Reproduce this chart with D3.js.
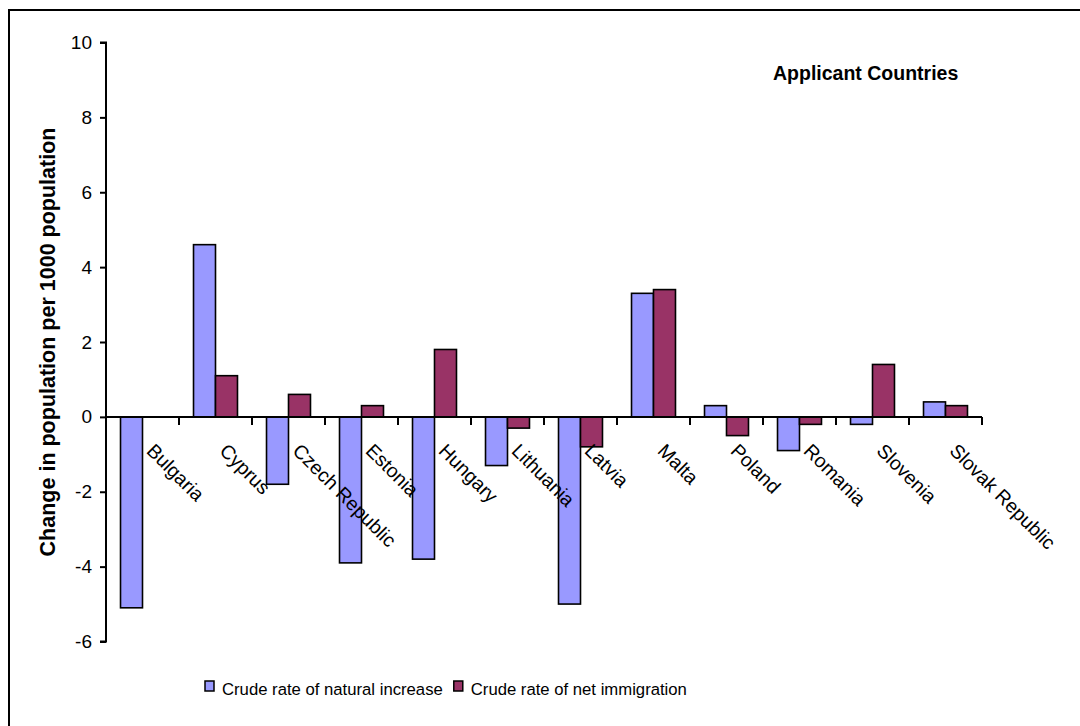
<!DOCTYPE html>
<html><head><meta charset="utf-8">
<script src="https://cdn.jsdelivr.net/npm/d3@7"></script>
<style>body{margin:0;background:#fff}svg{display:block;font-family:"Liberation Sans",Arial,sans-serif}</style>
</head><body><svg id="c" width="1080" height="726"></svg>
<script>
const categories = ["Bulgaria","Cyprus","Czech Republic","Estonia","Hungary","Lithuania","Latvia","Malta","Poland","Romania","Slovenia","Slovak Republic"];
const naturalIncrease = [-5.1, 4.6, -1.8, -3.9, -3.8, -1.3, -5.0, 3.3, 0.3, -0.9, -0.2, 0.4];
const netImmigration = [0, 1.1, 0.6, 0.3, 1.8, -0.3, -0.8, 3.4, -0.5, -0.2, 1.4, 0.3];
const seriesNames = ["Crude rate of natural increase","Crude rate of net immigration"];
const yTicks = [10, 8, 6, 4, 2, 0, -2, -4, -6];
const colors = ["#9999FF", "#993366"];

const svg = d3.select("#c");
svg.append("rect").attr("x", 9).attr("y", 10).attr("width", 1100).attr("height", 800)
  .attr("fill", "none").attr("stroke", "#000").attr("stroke-width", 2);

const L = 106, R = 982, T = 42.5, B = 641.5;
const y = d3.scaleLinear().domain([-6, 10]).range([B, T]);
const x = d3.scaleBand().domain(categories).range([L, R]);
const inner = d3.scaleBand().domain([0, 1]).range([0, x.bandwidth()]).paddingOuter(0.66).paddingInner(0);

const series = [naturalIncrease, netImmigration];
series.forEach((vals, si) => {
  svg.append("g").selectAll("rect").data(vals.map((v, i) => ({v, c: categories[i]})).filter(d => d.v !== 0))
    .join("rect")
    .attr("x", d => x(d.c) + inner(si))
    .attr("width", inner.bandwidth())
    .attr("y", d => y(Math.max(0, d.v)))
    .attr("height", d => Math.abs(y(d.v) - y(0)))
    .attr("fill", colors[si]).attr("stroke", "#000").attr("stroke-width", 1.6);
});

// y axis
const ya = svg.append("g").attr("transform", `translate(${L},0)`)
  .call(d3.axisLeft(y).tickValues(yTicks).tickSize(6).tickPadding(8).tickFormat(d => String(d)));
ya.select(".domain").attr("stroke-width", 2).attr("d", `M-6,${y(10)}H0V${y(-6)}H-6`);
ya.selectAll(".tick line").attr("stroke-width", 2);
ya.selectAll("text").attr("font-size", 19).attr("font-family", "Liberation Sans, Arial, sans-serif").attr("fill", "#000");

// x axis at zero
const xa = svg.append("g").attr("transform", `translate(0,${y(0)})`);
xa.append("line").attr("x1", L).attr("x2", R).attr("y1", 0).attr("y2", 0).attr("stroke", "#000").attr("stroke-width", 2);
const bounds = categories.map(c => x(c) + x.bandwidth());
xa.selectAll("line.t").data(bounds).join("line").attr("class", "t")
  .attr("x1", d => d).attr("x2", d => d).attr("y1", 0).attr("y2", 8).attr("stroke", "#000").attr("stroke-width", 2);
xa.selectAll("text").data(categories).join("text")
  .attr("transform", d => `translate(${x(d) + x.bandwidth() / 2 + 3},${35}) rotate(45)`)
  .attr("font-size", 19.5).attr("fill", "#000").text(d => d);

// y title
svg.append("text").attr("transform", `translate(55,${(T + B) / 2}) rotate(-90)`)
  .attr("text-anchor", "middle").attr("font-size", 21.5).attr("font-weight", "bold").text("Change in population per 1000 population");

svg.append("text").attr("x", 773).attr("y", 80).attr("font-size", 19.5).attr("font-weight", "bold").text("Applicant Countries");

// legend
const lg = svg.append("g").attr("transform", "translate(205,695)");
let lx = 0;
seriesNames.forEach((n, i) => {
  lg.append("rect").attr("x", lx).attr("y", -14).attr("width", 9).attr("height", 10)
    .attr("fill", colors[i]).attr("stroke", "#000").attr("stroke-width", 1.5);
  const t = lg.append("text").attr("x", lx + 17).attr("y", 0).attr("font-size", 16.7).text(n);
  lx += 17 + t.node().getComputedTextLength() + 11;
});
</script></body></html>
